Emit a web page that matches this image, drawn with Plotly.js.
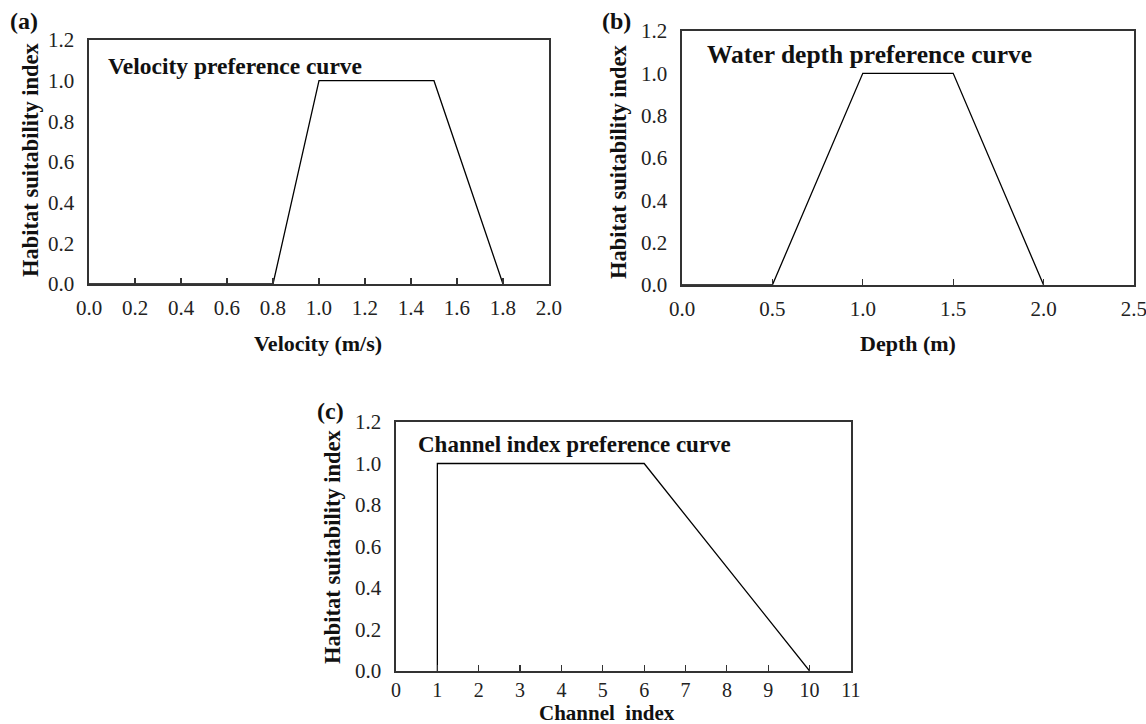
<!DOCTYPE html>
<html>
<head>
<meta charset="utf-8">
<script src="https://cdn.plot.ly/plotly-3.0.1.min.js"></script>
<style>html,body{margin:0;padding:0;background:#fff;}</style>
</head>
<body>
<div id="chart" style="width:1146px;height:724px;"></div>
<script>
// Data
const velocityX = [0, 0.8, 1.0, 1.5, 1.8];
const velocityHSI = [0, 0, 1, 1, 0];
const depthX = [0, 0.5, 1.0, 1.5, 2.0];
const depthHSI = [0, 0, 1, 1, 0];
const channelX = [1, 1, 6, 10];
const channelHSI = [0, 1, 1, 0];

const W = 1146, H = 724;
const px = v => v / W;
const py = v => 1 - v / H;
const FONT = 'Liberation Serif, Times New Roman, serif';
const AXC = '#333';
const TICKSIZE = 21;

const line = {color: '#000', width: 1.3};
const traces = [
  {x: velocityX, y: velocityHSI, xaxis: 'x', yaxis: 'y', mode: 'lines', line: line, showlegend: false, hoverinfo: 'x+y'},
  {x: depthX, y: depthHSI, xaxis: 'x2', yaxis: 'y2', mode: 'lines', line: line, showlegend: false, hoverinfo: 'x+y'},
  {x: channelX, y: channelHSI, xaxis: 'x3', yaxis: 'y3', mode: 'lines', line: line, showlegend: false, hoverinfo: 'x+y'}
];

function xax(domain, range, dtick, fmt, anchor, standoff, size) {
  return {
    domain: domain, range: range, dtick: dtick, tick0: 0, tickformat: fmt,
    anchor: anchor, showgrid: false, zeroline: false,
    showline: true, linecolor: AXC, linewidth: 1.6, mirror: true,
    ticks: 'inside', ticklen: 6, tickwidth: 1.2, tickcolor: AXC,
    tickfont: {family: FONT, size: size || TICKSIZE, color: '#222'}, ticklabelstandoff: standoff,
    ticklabeloverflow: 'allow', fixedrange: true
  };
}
function yax(domain, anchor) {
  return {
    domain: domain, range: [0, 1.2001], dtick: 0.2, tick0: 0, tickformat: '.1f',
    anchor: anchor, showgrid: false, zeroline: false,
    showline: true, linecolor: AXC, linewidth: 1.6, mirror: true,
    ticks: '', tickfont: {family: FONT, size: TICKSIZE, color: '#222'}, ticklabelstandoff: 9,
    ticklabeloverflow: 'allow', fixedrange: true
  };
}

const bold = (t, x, y, size, xanchor, angle) => ({
  text: '<b>' + t + '</b>', x: x, y: y, xref: 'paper', yref: 'paper',
  xanchor: xanchor || 'center', yanchor: 'middle', showarrow: false,
  textangle: angle || 0, font: {family: FONT, size: size, color: '#111'}
});

const layout = {
  width: W, height: H,
  margin: {l: 0, r: 0, t: 0, b: 0},
  paper_bgcolor: '#fff', plot_bgcolor: '#fff',
  xaxis: xax([px(89), px(549)], [0, 2.0001], 0.2, '.1f', 'y', 4),
  yaxis: yax([py(284), py(40)], 'x'),
  xaxis2: xax([px(682), px(1134)], [0, 2.5001], 0.5, '.1f', 'y2', 4),
  yaxis2: yax([py(285), py(31)], 'x2'),
  xaxis3: xax([px(396), px(851)], [0, 11.001], 1, 'd', 'y3', 0, 20),
  yaxis3: yax([py(671), py(422)], 'x3'),
  annotations: [
    bold('(a)', px(24), py(21), 24),
    bold('(b)', px(616), py(21), 24),
    bold('(c)', px(330), py(411), 24),
    bold('Velocity preference curve', px(106), py(66), 23.5, 'left'),
    bold('Water depth preference curve', px(705), py(55), 25.5, 'left'),
    bold('Channel index preference curve', px(416), py(444), 23, 'left'),
    bold('Habitat suitability index', px(30), py(160), 22.5, 'center', -90),
    bold('Habitat suitability index', px(618), py(162), 22.5, 'center', -90),
    bold('Habitat suitability index', px(332), py(547), 22.5, 'center', -90),
    bold('Velocity (m/s)', px(318), py(343), 22),
    bold('Depth (m)', px(908), py(343), 22),
    bold('Channel&nbsp; index', px(607), py(713), 21)
  ]
};

Plotly.newPlot('chart', traces, layout, {displayModeBar: false, staticPlot: true});
</script>
</body>
</html>
